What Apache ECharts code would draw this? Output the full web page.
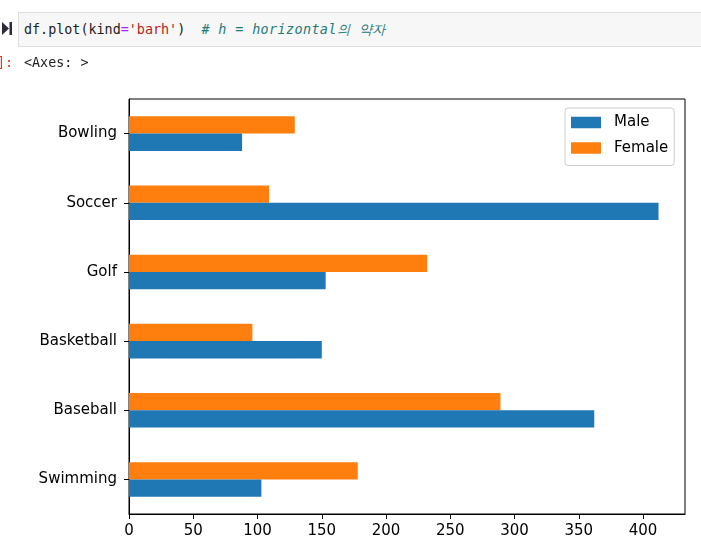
<!DOCTYPE html>
<html lang="ko">
<head>
<meta charset="UTF-8">
<title>df.plot(kind='barh')</title>
<script src="https://cdn.jsdelivr.net/npm/echarts@6/dist/echarts.min.js"></script>
<style>
    body { margin: 0; width: 701px; height: 551px; background: #fff; overflow: hidden; position: relative; }
    #main { position: absolute; left: 0; top: 0; width: 701px; height: 551px; }
    .cell { position: absolute; left: 18px; top: 12px; width: 690px; height: 33px;
            background: #f7f7f7; border: 1px solid #dedede; z-index: 2; }
    .code { position: absolute; left: 24px; top: 21px; z-index: 3; white-space: pre;
            font-family: "DejaVu Sans Mono", monospace; font-size: 13.4px; line-height: 18px; color: #222; }
    .code .op { color: #aa22ff; }
    .code .str { color: #ba2121; }
    .code .cm { color: #1f7a7a; font-style: italic; letter-spacing: 0.4px; }
    .prompt { position: absolute; left: -3px; top: 54px; z-index: 3; white-space: pre;
              font-family: "DejaVu Sans Mono", monospace; font-size: 13.4px; line-height: 18px; color: #d84315; }
    .out { position: absolute; left: 24px; top: 54px; z-index: 3; white-space: pre;
           font-family: "DejaVu Sans Mono", monospace; font-size: 13.4px; line-height: 18px; color: #222; }
    .run { position: absolute; left: 2px; top: 22px; z-index: 3; }
</style>
</head>
<body>
<div class="cell"></div>
<svg class="run" width="10" height="13" viewBox="0 0 10 13">
    <polygon points="0,0 7,6.5 0,13" fill="#2b2b3a"/>
    <rect x="7.5" y="0" width="2.5" height="13" fill="#2b2b3a"/>
</svg>
<div class="code">df.plot(kind<span class="op">=</span><span class="str">'barh'</span>)  <span class="cm"># h = horizontal의 약자</span></div>
<div class="prompt">]:</div>
<div class="out">&lt;Axes: &gt;</div>
<div id="main"></div>
<script type="text/javascript">
    // 데이터 (아래에서 위로)
    var categories = ['Swimming', 'Baseball', 'Basketball', 'Golf', 'Soccer', 'Bowling'];
    var male = [103, 362, 150, 153, 412, 88];
    var female = [178, 289, 96, 232, 109, 129];
    var xTicks = [0, 50, 100, 150, 200, 250, 300, 350, 400];

    // matplotlib 기본 여백 (최대값의 5%)
    var xMax = Math.max.apply(null, male.concat(female)) * 1.05;

    var myChart = echarts.init(document.getElementById('main'));
    myChart.setOption({
        animation: false,
        textStyle: { fontFamily: 'DejaVu Sans' },
        grid: {
            left: 129, top: 99, width: 556, height: 415,
            show: true, borderColor: '#000', borderWidth: 1, backgroundColor: 'transparent'
        },
        legend: {
            data: ['Male', 'Female'],
            orient: 'vertical',
            left: 565, top: 108,
            icon: 'rect',
            itemWidth: 30, itemHeight: 11.5, itemGap: 10.5,
            padding: [7, 6, 10, 6],
            borderColor: '#cccccc', borderWidth: 1, borderRadius: 3,
            backgroundColor: '#fff',
            textStyle: { fontSize: 15, color: '#000', lineHeight: 15, padding: [0, 0, 0, 8] }
        },
        xAxis: {
            type: 'value',
            min: 0,
            max: xMax,
            interval: 50,
            axisLine: { show: true, lineStyle: { color: '#000', width: 1 } },
            axisTick: { show: true, length: 5, lineStyle: { color: '#000' }, customValues: xTicks },
            axisLabel: { fontSize: 15, color: '#000', margin: 10, customValues: xTicks },
            splitLine: { show: false }
        },
        yAxis: {
            type: 'category',
            data: categories,
            axisLine: { show: true, lineStyle: { color: '#000', width: 1 } },
            axisTick: { show: true, alignWithLabel: true, length: 5, lineStyle: { color: '#000' } },
            axisLabel: { fontSize: 15, color: '#000', margin: 12 },
            splitLine: { show: false }
        },
        // 가로 막대에서는 첫 시리즈가 위쪽에 놓이므로 Female을 먼저 둔다
        series: [{
            name: 'Female',
            type: 'bar',
            data: female,
            barGap: '0%',
            barCategoryGap: '50%',
            itemStyle: { color: '#ff7f0e' }
        }, {
            name: 'Male',
            type: 'bar',
            data: male,
            barGap: '0%',
            barCategoryGap: '50%',
            itemStyle: { color: '#1f77b4' }
        }]
    });
</script>
</body>
</html>
